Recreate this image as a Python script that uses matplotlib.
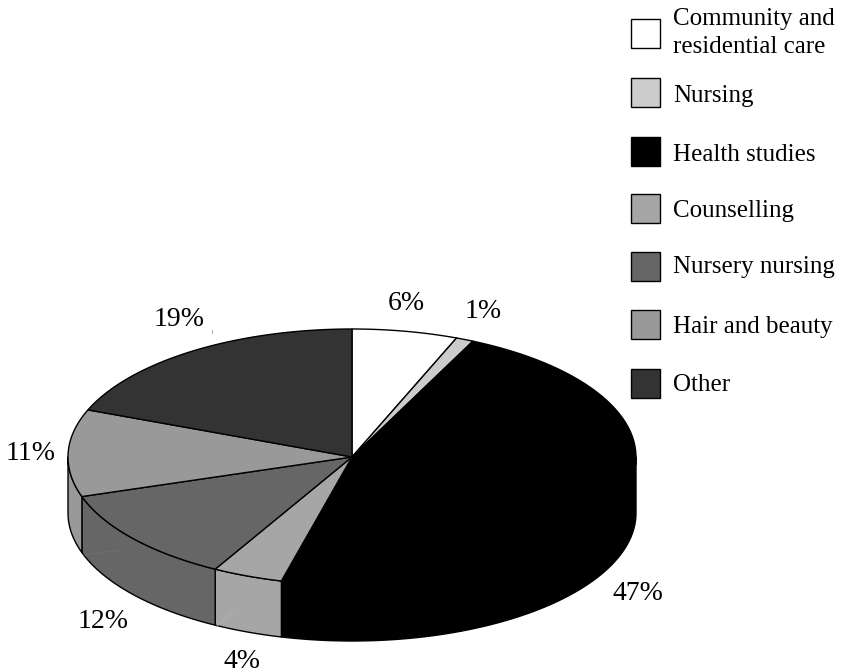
import numpy as np
import matplotlib
matplotlib.use('Agg')
import matplotlib.pyplot as plt
from matplotlib.patches import Polygon, Rectangle

categories = ['Community and\nresidential care', 'Nursing', 'Health studies', 'Counselling',
              'Nursery nursing', 'Hair and beauty', 'Other']
shares = [6, 1, 47, 4, 12, 11, 19]
shares_text = ['6%', '1%', '47%', '4%', '12%', '11%', '19%']
greys = ['#ffffff', '#cccccc', '#000000', '#a6a6a6', '#666666', '#999999', '#333333']

# pie geometry, in image pixels
cx, cy = 352, 457
rx, ry = 284, 128
depth = 56
label_xy = [(406, 304), (483, 311), (638, 593), (242, 661), (103, 621), (31, 453), (179, 319)]
legend_y = [34, 93, 152, 209, 267, 325, 384]
legend_text_y = [33, 96, 155, 211, 267, 327, 385]

plt.rcParams['font.family'] = ['Liberation Serif', 'DejaVu Serif']

fig = plt.figure(figsize=(8.42, 6.72), dpi=100)
ax = fig.add_axes([0, 0, 1, 1])
ax.set_xlim(0, 842)
ax.set_ylim(672, 0)
ax.axis('off')


def rim(a, b, n=80):
    t = np.radians(np.linspace(a, b, n))
    return cx + rx * np.sin(t), cy - ry * np.cos(t)


edges = np.cumsum([0] + shares) * 3.6

# sides first, only the front half of the rim shows
for i in range(len(shares)):
    a = max(edges[i], 90)
    b = min(edges[i + 1], 270)
    if a >= b:
        continue
    x, y = rim(a, b)
    xs = np.concatenate([x, x[::-1]])
    ys = np.concatenate([y, y[::-1] + depth])
    ax.add_patch(Polygon(np.column_stack([xs, ys]), closed=True, facecolor=greys[i],
                         edgecolor='black', linewidth=1, joinstyle='round'))

# top of the pie
for i in range(len(shares)):
    x, y = rim(edges[i], edges[i + 1])
    xs = np.concatenate([[cx], x])
    ys = np.concatenate([[cy], y])
    ax.add_patch(Polygon(np.column_stack([xs, ys]), closed=True, facecolor=greys[i],
                         edgecolor='black', linewidth=1, joinstyle='round'))

# faint specks in the original
ax.plot([211.5, 211.5], [330, 333], color='#999999', linewidth=0.6)
ax.plot([216, 233], [627, 611], color='#b4b4b4', linewidth=0.5)
ax.plot([84, 122], [555, 550], color='#727272', linewidth=0.5)

for s, (x, y) in zip(shares_text, label_xy):
    ax.text(x, y, s, fontsize=20, ha='center', va='center', color='black')

for name, c, y, ty in zip(categories, greys, legend_y, legend_text_y):
    ax.add_patch(Rectangle((631, y - 15), 29, 29, facecolor=c, edgecolor='black', linewidth=1))
    ax.text(673, ty, name, fontsize=18, ha='left', va='center', color='black', linespacing=1.3)

fig.savefig('out.png', dpi=100)
